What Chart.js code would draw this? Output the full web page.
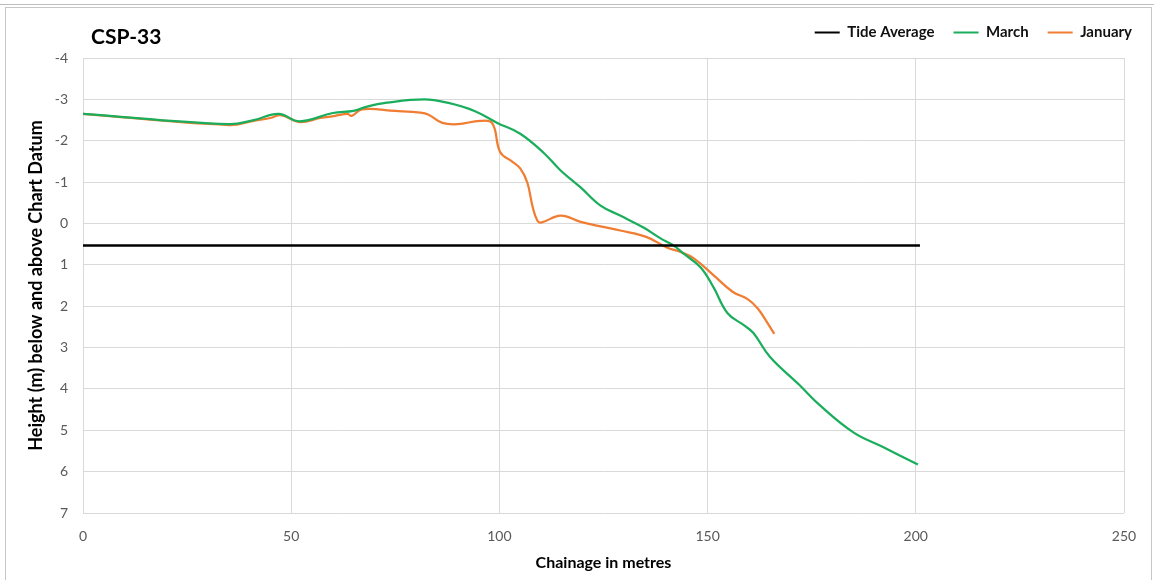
<!DOCTYPE html>
<html>
<head>
<meta charset="utf-8">
<script src="https://cdn.jsdelivr.net/npm/chart.js@4.4.1/dist/chart.umd.min.js"></script>
<style>
html,body{margin:0;padding:0;background:#fff;}
#wrap{position:relative;width:1154px;height:580px;overflow:hidden;}
#strip{position:absolute;left:0;top:0;width:1154px;height:4px;border-bottom:1px solid #bdbdbd;}
#frame{position:absolute;left:5px;top:7px;width:1147px;height:575px;border:1px solid #c6c6c6;box-sizing:border-box;}
canvas{position:absolute;left:0;top:0;}
</style>
</head>
<body>
<div id="wrap">
  <div id="strip"></div>
  <div id="frame"></div>
  <canvas id="profileChart" width="1154" height="580"></canvas>
</div>
<script>
// CSP-33 beach profile, heights relative to chart datum
const chartTitle = 'CSP-33';
const xTitle = 'Chainage in metres';
const yTitle = 'Height (m) below and above Chart Datum';

const tideX = [0, 201];
const tideY = [0.53, 0.53];

const marchX = [0, 35, 41, 47, 52, 60, 65, 68, 73, 82, 87.5, 94, 99.5, 105, 110.6, 114.7, 119.5, 124.3, 129, 134.6, 138.7, 141.8, 144.5, 148.3, 151.4, 154.8, 158.7, 161, 165, 172, 177, 185, 192, 200.5];
const marchY = [-2.65, -2.4, -2.5, -2.65, -2.47, -2.67, -2.72, -2.82, -2.92, -3.0, -2.92, -2.72, -2.43, -2.17, -1.71, -1.28, -0.87, -0.43, -0.19, 0.1, 0.36, 0.53, 0.75, 1.06, 1.54, 2.17, 2.46, 2.65, 3.23, 3.9, 4.4, 5.05, 5.4, 5.83];

const janX = [0, 35, 41, 45, 47.5, 52, 57, 60.5, 63.5, 64.5, 67, 75, 81, 83, 86.3, 90, 95.4, 98.3, 100.2, 103, 105, 106.7, 108, 109.1, 110, 114.7, 119.5, 124.3, 129, 135.4, 140.2, 143.5, 146.6, 151.4, 156, 159.6, 162, 164.4, 166];
const janY = [-2.65, -2.38, -2.48, -2.55, -2.62, -2.45, -2.55, -2.6, -2.65, -2.6, -2.76, -2.72, -2.68, -2.63, -2.43, -2.4, -2.48, -2.42, -1.72, -1.5, -1.33, -0.99, -0.39, -0.07, -0.02, -0.19, -0.04, 0.07, 0.17, 0.33, 0.58, 0.69, 0.84, 1.25, 1.65, 1.83, 2.05, 2.41, 2.67];

function pts(xs, ys){
  return xs.map((x, i) => ({x: x, y: ys[i]}));
}

const FONT = 'Lato, "Open Sans", sans-serif';

// draws the chart title in the top left corner
const titlePlugin = {
  id: 'cspTitle',
  afterDraw(chart){
    const ctx = chart.ctx;
    ctx.save();
    ctx.font = 'bold 21px ' + FONT;
    ctx.fillStyle = '#000';
    ctx.textBaseline = 'middle';
    ctx.fillText(chartTitle, chart.chartArea.left + 8, 37);
    ctx.restore();
  }
};

// extra room under the legend so the plot starts lower
const legendGap = {
  id: 'legendGap',
  beforeUpdate(chart){
    const lg = chart.legend;
    if(!lg || lg._gapPatched) return;
    const fit = lg.fit;
    lg.fit = function(){
      fit.call(this);
      this.height += 8;
    };
    lg._gapPatched = true;
  }
};

const ctx = document.getElementById('profileChart').getContext('2d');
new Chart(ctx, {
  type: 'scatter',
  data: {
    datasets: [
      {
        label: 'Tide Average',
        data: pts(tideX, tideY),
        showLine: true,
        borderColor: '#000',
        backgroundColor: '#000',
        borderWidth: 2.5,
        pointRadius: 0
      },
      {
        label: 'March',
        data: pts(marchX, marchY),
        showLine: true,
        borderColor: '#1aae5c',
        backgroundColor: '#1aae5c',
        borderWidth: 2.25,
        tension: 0.4,
        pointRadius: 0
      },
      {
        label: 'January',
        data: pts(janX, janY),
        showLine: true,
        borderColor: '#f07d32',
        backgroundColor: '#f07d32',
        borderWidth: 2.25,
        tension: 0.4,
        pointRadius: 0
      }
    ]
  },
  options: {
    responsive: false,
    animation: false,
    layout: {padding: {left: 10, right: 3, top: 6, bottom: 4}},
    plugins: {
      tooltip: {enabled: false},
      legend: {
        position: 'top',
        align: 'end',
        labels: {
          color: '#111',
          font: {family: FONT, size: 15, weight: 'bold'},
          boxWidth: 25,
          boxHeight: 2,
          padding: 19,
          generateLabels(chart){
            const items = Chart.defaults.plugins.legend.labels.generateLabels(chart);
            items.forEach(it => { it.lineWidth = 0; });
            return items;
          }
        }
      }
    },
    scales: {
      x: {
        type: 'linear',
        min: 0,
        max: 250,
        ticks: {
          stepSize: 50,
          color: '#595959',
          font: {family: FONT, size: 14},
          padding: 15
        },
        grid: {color: '#d9d9d9', drawTicks: false},
        border: {display: false},
        title: {
          display: true,
          text: xTitle,
          color: '#000',
          font: {family: FONT, size: 16, weight: 'bold'},
          padding: {top: 0, bottom: 4}
        },
        afterFit: s => { s.height = 63; }
      },
      y: {
        min: -4,
        max: 7,
        reverse: true,
        ticks: {
          stepSize: 1,
          color: '#595959',
          font: {family: FONT, size: 14},
          padding: 15
        },
        grid: {color: '#d9d9d9', drawTicks: false},
        border: {display: false},
        title: {
          display: true,
          text: yTitle,
          color: '#000',
          font: {family: FONT, size: 18, weight: 'bold'},
          padding: {top: 15, bottom: 0}
        },
        afterFit: s => { s.width = 73; }
      },
      // empty right gutter so the legend can reach past the plot edge
      y1: {
        position: 'right',
        min: 0,
        max: 1,
        ticks: {display: false},
        grid: {display: false, drawTicks: false},
        border: {display: false},
        afterFit: s => { s.width = 27; }
      }
    }
  },
  plugins: [titlePlugin, legendGap]
});
</script>
</body>
</html>
